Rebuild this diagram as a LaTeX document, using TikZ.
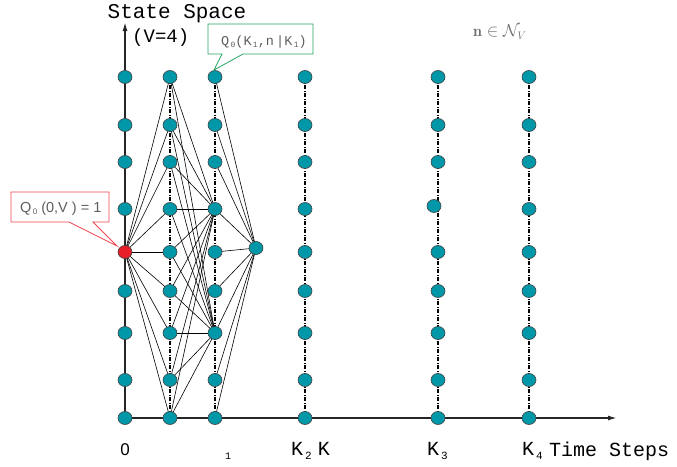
\documentclass[tikz,border=0pt]{standalone}
\usepackage{fontspec}
\usepackage{amsmath}
\usetikzlibrary{shapes.geometric,arrows.meta}
\newfontfamily\monof{Liberation Mono}
\newfontfamily\sansf{Liberation Sans}
\definecolor{teal1}{RGB}{0,152,168}
\definecolor{red1}{RGB}{232,30,40}
\definecolor{green1}{RGB}{40,165,100}
\definecolor{pink1}{RGB}{238,70,80}
\definecolor{txtgray}{RGB}{95,95,95}
\newcommand{\lowsub}[3]{\raisebox{-#1}{\fontsize{#2}{#2}\selectfont #3}}
\pgfdeclarelayer{bg}
\pgfsetlayers{bg,main}
\begin{document}
\begin{tikzpicture}[x=1pt,y=-1pt,
  dot/.style={ellipse,draw=black!75,line width=0.6pt,fill=teal1,minimum width=14pt,minimum height=13pt,inner sep=0pt},
  reddot/.style={dot,fill=red1},
  edge/.style={black,line width=0.6pt},
  axisline/.style={black!85,line width=1.5pt,-{Latex[length=9pt,width=5pt]}},
  dd/.style={black,line width=1.2pt,dash pattern=on 4pt off 1.5pt on 1pt off 1.5pt},
  mono/.style={font=\monof\fontsize{20}{23}\selectfont,inner sep=0pt},
]
\useasboundingbox (0,0) rectangle (677,466);

% nodes
\foreach \y/\i in {77/1,125/2,162/3,209/4,291/6,333/7,380/8,418/9}
  \node[dot] (c0-\i) at (125,\y) {};
\node[reddot] (c0-5) at (125,252) {};
\foreach \y [count=\i] in {77,125,162,209,252,291,333,380,418} {
  \node[dot] (c1-\i) at (170,\y) {};
  \node[dot] (c2-\i) at (215,\y) {};
  \node[dot] (k2-\i) at (305,\y) {};
  \node[dot] (k4-\i) at (529,\y) {};
}
\foreach \x/\y/\i in {438/77/1,438/125/2,438/162/3,434/206/4,438/252/5,438/291/6,438/333/7,438/380/8,438/418/9}
  \node[dot] (k3-\i) at (\x,\y) {};
\node[dot] (c3) at (256,248) {};

\coordinate (ytop) at (125,22);
\coordinate (xend) at (617,418);

\begin{pgfonlayer}{bg}
  \draw[axisline] (c0-9.center) -- (ytop);
  \draw[axisline] (c0-9.center) -- (xend);
  \foreach \c in {c1,c2,k2,k3,k4}
    \draw[dd] (\c-1.center) -- (\c-9.center);
  \foreach \i in {1,...,9} {
    \draw[edge] (c0-5.center) -- (c1-\i.center);
    \draw[edge] (c1-\i.center) -- (c2-4.center);
    \draw[edge] (c1-\i.center) -- (c2-7.center);
    \draw[edge] (c2-\i.center) -- (c3.center);
  }
\end{pgfonlayer}

% callouts
\draw[green1,line width=0.8pt,fill=white] (208,24) -- (313,24) -- (313,54) -- (243,54) -- (214,70) -- (222,54) -- (208,54) -- cycle;
\node[font=\monof\fontsize{13.5}{15}\selectfont,text=txtgray,anchor=base west,inner sep=0pt] (qk) at (221,45)
  {Q\lowsub{2pt}{8}{\,0}(K\lowsub{2pt}{8}{\,1},n\,|K\lowsub{2pt}{8}{\,1})};
\draw[pink1,line width=0.8pt,fill=white] (11,192) -- (109,192) -- (109,222) -- (93,222) -- (117,246) -- (69,222) -- (11,222) -- cycle;
\node[font=\sansf\fontsize{14.5}{16}\selectfont,text=txtgray,anchor=base west,inner sep=0pt] (q0) at (20,212)
  {Q\lowsub{2pt}{8}{\,0} (0,V\ ) = 1};

% texts
\node[font=\monof\fontsize{21}{24}\selectfont,anchor=base,inner sep=0pt] (title) at (177,18) {State Space};
\node[font=\monof\fontsize{19}{22}\selectfont,inner sep=0pt,anchor=base west] (vlab) at (132,42) {(V=4)};
\node[mono,anchor=base west] (tlab) at (549,456) {Time Steps};
\node[font=\sansf\fontsize{17}{20}\selectfont,inner sep=0pt] (zero) at (125,450) {0};
\node[font=\monof\fontsize{10}{12}\selectfont,inner sep=0pt] (one) at (228,456) {1};
\node[mono,anchor=base west] (kk2) at (291,455) {K\hspace{2pt}\lowsub{4pt}{11}{2}\hspace{6pt}K};
\node[mono,anchor=base west] (kk3) at (427,455) {K\hspace{2pt}\lowsub{4pt}{11}{3}};
\node[mono,anchor=base west] (kk4) at (522,455) {K\hspace{2pt}\lowsub{4pt}{11}{4}};
\node[text=black!55,font=\fontsize{16}{18}\selectfont,inner sep=0pt] (nset) at (500,32) {$\mathbf{n}\in\mathcal{N}_V$};
\end{tikzpicture}
\end{document}
